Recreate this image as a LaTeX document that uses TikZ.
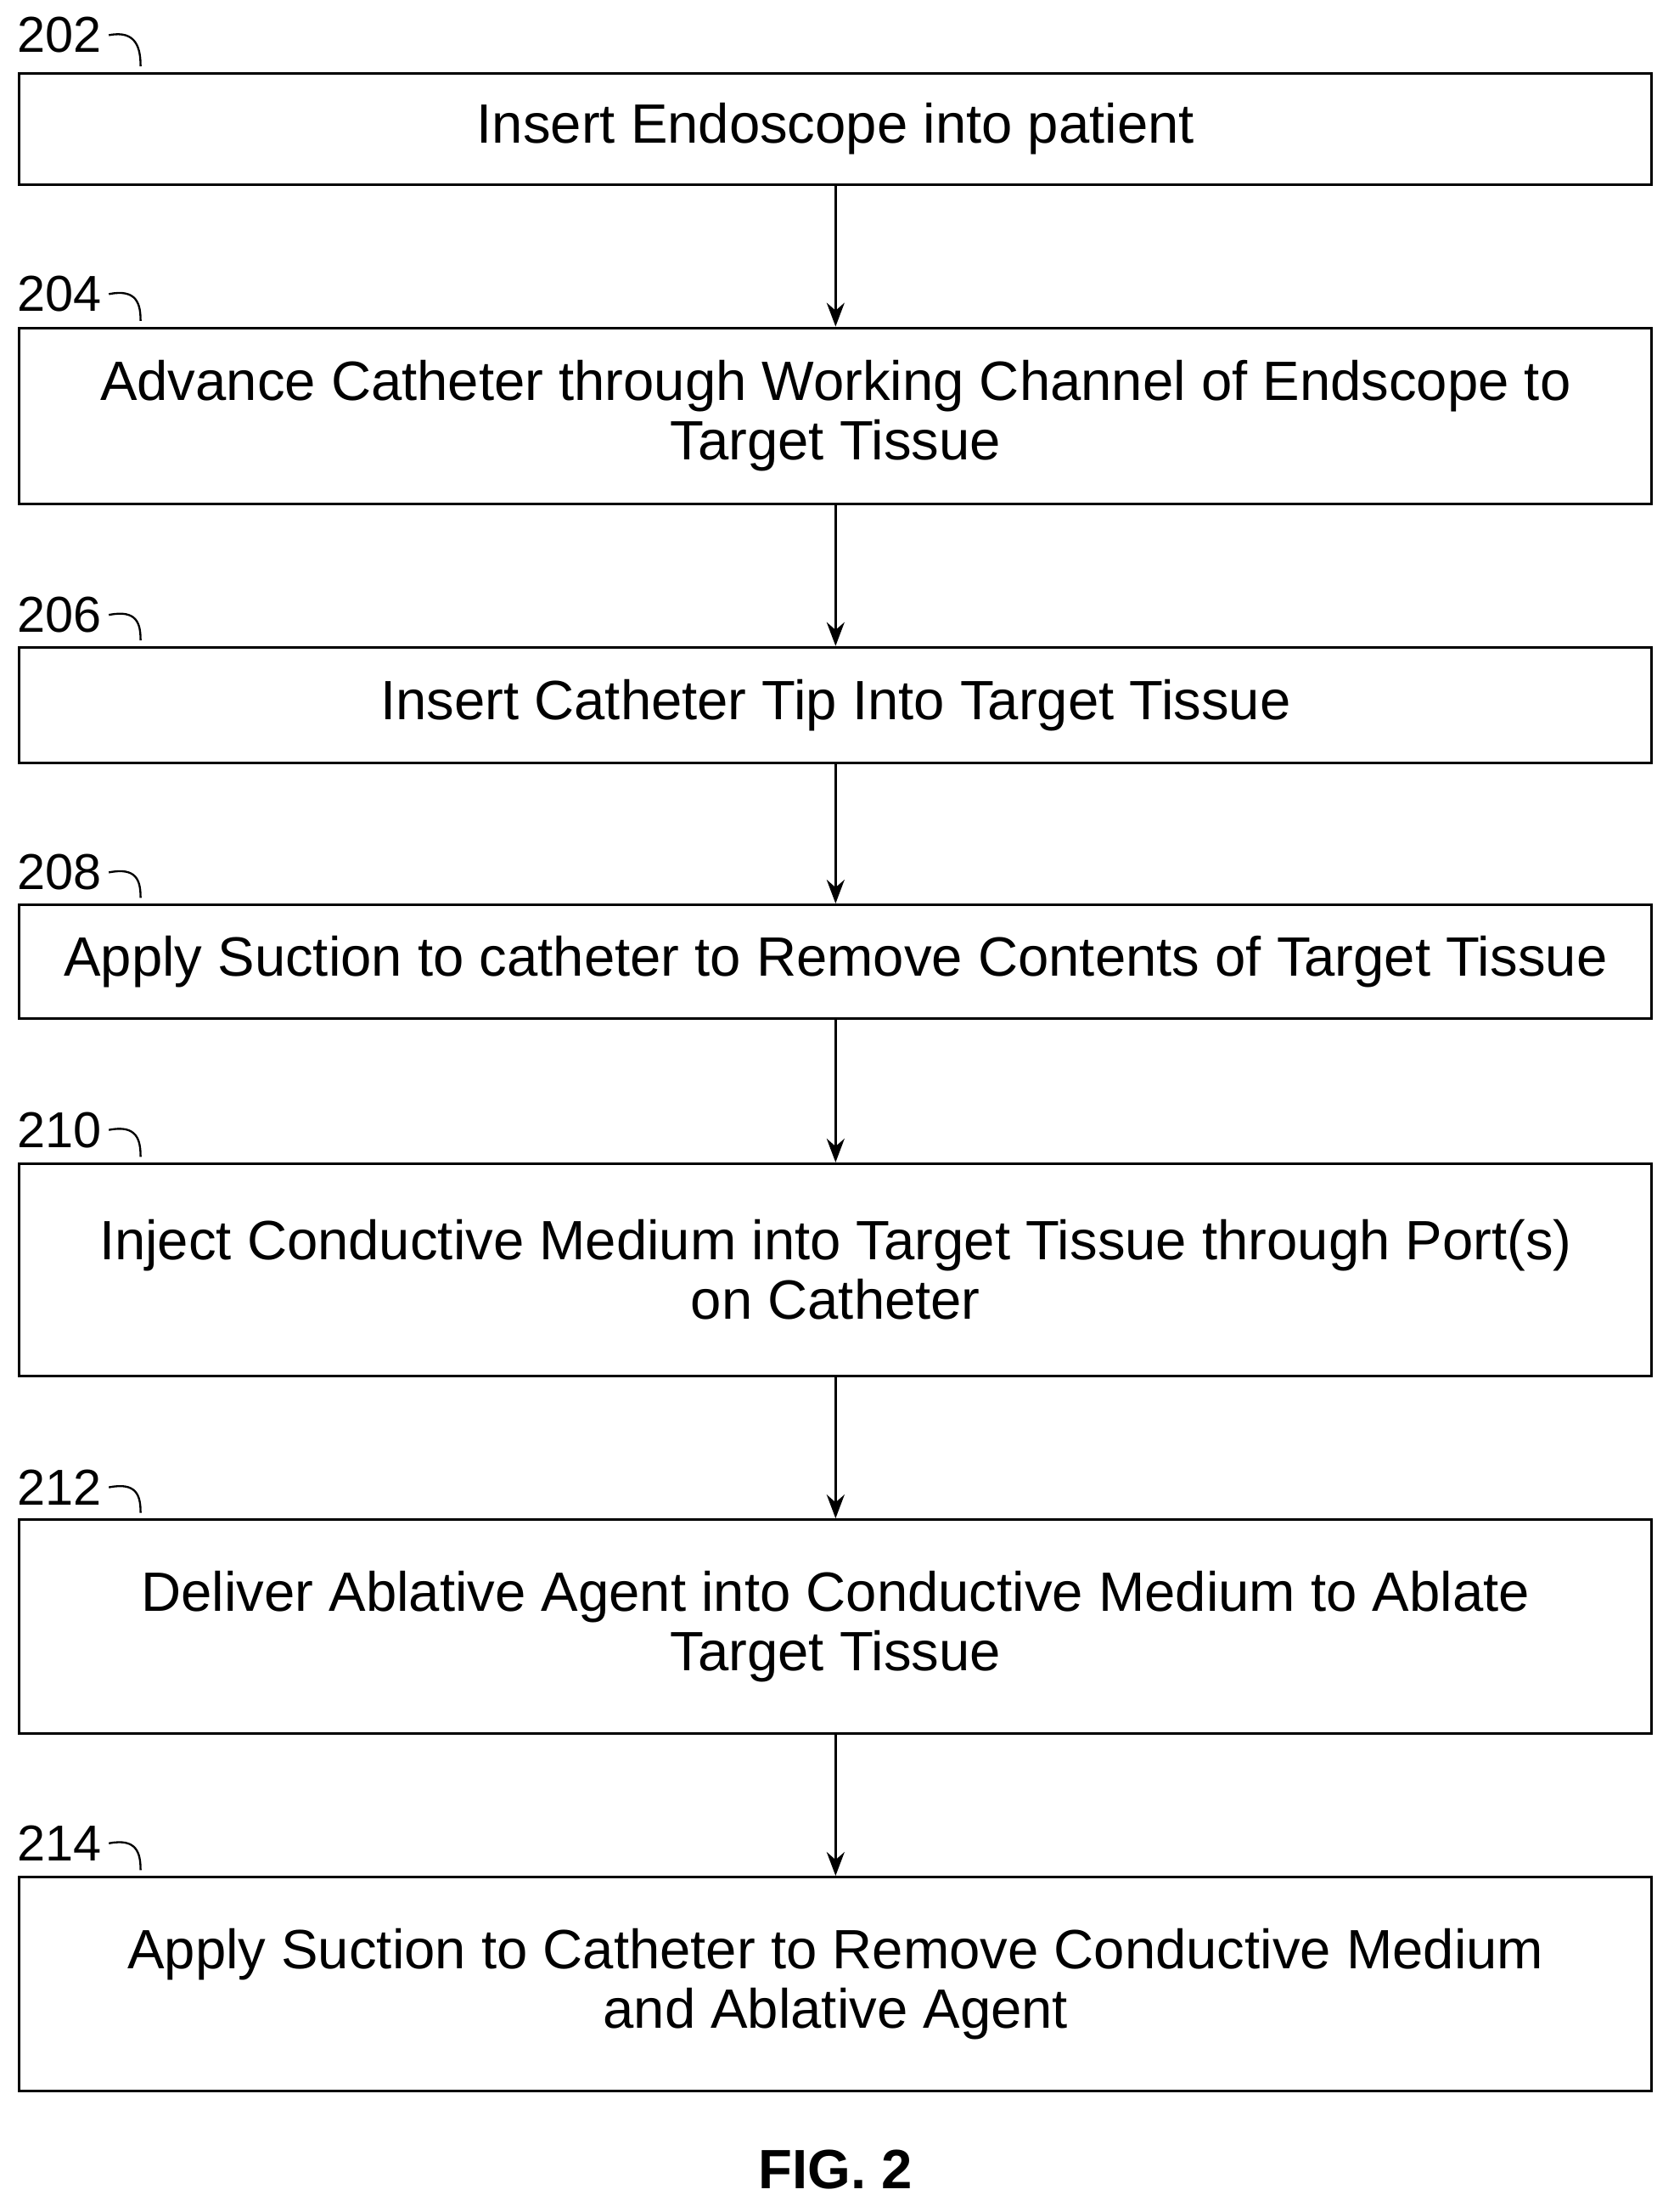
\documentclass[tikz,border=0pt]{standalone}
\usepackage{fontspec}
\setmainfont{Liberation Sans}
\usetikzlibrary{arrows.meta, positioning, calc}

\begin{document}
\begin{tikzpicture}[
    x=0.025cm, y=-0.025cm,
    stepbox/.style={rectangle, draw, line width=1.3pt, minimum width=29.0cm, align=center, font=\fontsize{28}{30}\selectfont, inner sep=0pt},
    reflbl/.style={font=\fontsize{25.5}{28}\selectfont, inner sep=0pt},
    arrow/.style={-{Stealth[length=12pt, width=9pt]}, line width=1.3pt},
    hook/.style={line width=1pt}
]
\useasboundingbox (0,0) rectangle (1190,1572);

% Steps
\node[stepbox, minimum height=1.975cm] (s202) at (594,91.5) {Insert Endoscope into patient};
\node[stepbox, minimum height=3.125cm] (s204) at (594,295.5) {Advance Catheter through Working Channel of Endscope to\\Target Tissue};
\node[stepbox, minimum height=2.05cm] (s206) at (594,501) {Insert Catheter Tip Into Target Tissue};
\node[stepbox, minimum height=2.025cm] (s208) at (594,683.5) {Apply Suction to catheter to Remove Contents of Target Tissue};
\node[stepbox, minimum height=3.775cm] (s210) at (594,902.5) {Inject Conductive Medium into Target Tissue through Port(s)\\on Catheter};
\node[stepbox, minimum height=3.8cm] (s212) at (594,1156) {Deliver Ablative Agent into Conductive Medium to Ablate\\Target Tissue};
\node[stepbox, minimum height=3.8cm] (s214) at (594,1410) {Apply Suction to Catheter to Remove Conductive Medium\\and Ablative Agent};

% Reference numerals
\foreach \n/\y in {202/25, 204/209, 206/437, 208/620, 210/803, 212/1057, 214/1310} {
  \node[reflbl, anchor=west] (l\n) at (12,\y) {\n};
  \draw[hook] ($(l\n.east)+(5,0)$) .. controls +(20,-4) and +(0,-12) .. ($(s\n.north west)+(87,-4)$);
}

% Arrows
\draw[arrow] (s202) -- (s204);
\draw[arrow] (s204) -- (s206);
\draw[arrow] (s206) -- (s208);
\draw[arrow] (s208) -- (s210);
\draw[arrow] (s210) -- (s212);
\draw[arrow] (s212) -- (s214);

\node[font=\bfseries\fontsize{28}{32}\selectfont] (fig) at (594,1542) {FIG. 2};
\end{tikzpicture}
\end{document}
